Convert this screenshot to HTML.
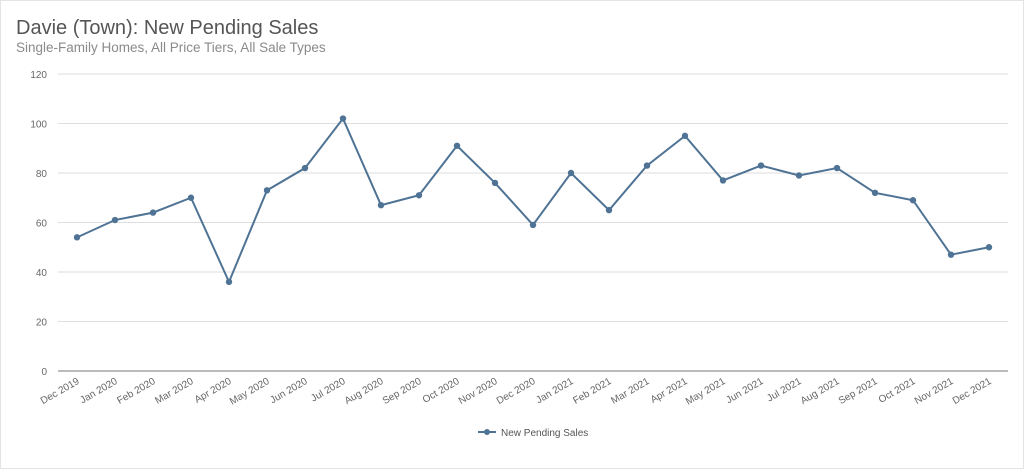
<!DOCTYPE html>
<html><head><meta charset="utf-8"><style>
body{margin:0;background:#fff;}
svg{display:block;font-family:"Liberation Sans",sans-serif;}
</style></head><body>
<svg id="c" width="1024" height="469" viewBox="0 0 1024 469">
<rect x="0.5" y="0.5" width="1023" height="468" fill="#fff" stroke="#e4e4e4"/>
<text x="16" y="34" font-size="20" fill="#555">Davie (Town): New Pending Sales</text>
<text x="16" y="52" font-size="13.5" fill="#8a8a8a">Single-Family Homes, All Price Tiers, All Sale Types</text>
<g id="grid"></g><g id="xl"></g><g id="series"></g>
<g>
<line x1="478" y1="432" x2="496" y2="432" stroke="#4f7394" stroke-width="2"/>
<circle cx="487" cy="432" r="3" fill="#4f7394"/>
<text x="501" y="436" font-size="10" fill="#555">New Pending Sales</text>
</g>
</svg>
<script>
const categories=["Dec 2019","Jan 2020","Feb 2020","Mar 2020","Apr 2020","May 2020","Jun 2020","Jul 2020","Aug 2020","Sep 2020","Oct 2020","Nov 2020","Dec 2020","Jan 2021","Feb 2021","Mar 2021","Apr 2021","May 2021","Jun 2021","Jul 2021","Aug 2021","Sep 2021","Oct 2021","Nov 2021","Dec 2021"];
const values=[54,61,64,70,36,73,82,102,67,71,91,76,59,80,65,83,95,77,83,79,82,72,69,47,50];
const yTicks=[0,20,40,60,80,100,120];
const NS="http://www.w3.org/2000/svg";
const x0=77,x1=989,y0=371,y1=74;
const xs=i=>x0+(x1-x0)*i/(categories.length-1);
const ys=v=>y0-(y0-y1)*v/120;
function mk(t,a,p){const e=document.createElementNS(NS,t);for(const k in a)e.setAttribute(k,a[k]);p.appendChild(e);return e;}
const g=document.getElementById('grid');
yTicks.forEach(v=>{
 const l=mk('line',{x1:58,x2:1008,y1:ys(v),y2:ys(v),stroke:v===0?'#777':'#dedede','stroke-width':1},g);
 
 
 const t=mk('text',{x:47,y:ys(v)+4,'font-size':10,fill:'#666','text-anchor':'end'},g);
 t.textContent=v;
 
 
});
const xl=document.getElementById('xl');
categories.forEach((c,i)=>{
 const t=mk('text',{x:xs(i)+3,y:y0+12,'font-size':10,fill:'#666','text-anchor':'end',transform:`rotate(-30 ${xs(i)+3} ${y0+12})`},xl);
 t.textContent=c;
 
 
});
const s=document.getElementById('series');
const pl=mk('polyline',{points:values.map((v,i)=>xs(i)+','+ys(v)).join(' '),fill:'none',stroke:'#4f7394','stroke-width':2},s);


values.forEach((v,i)=>{
 const p=mk('circle',{cx:xs(i),cy:ys(v),r:3.2,fill:'#4f7394'},s);
 
 
});
</script>
</body></html>
